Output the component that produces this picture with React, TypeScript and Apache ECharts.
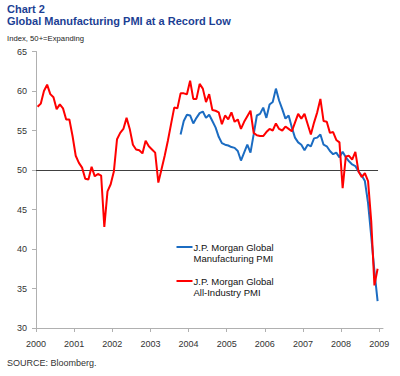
import React, { useEffect, useRef } from "react";
import * as echarts from "echarts";

// Monthly readings, Jan 2000 .. Dec 2008
const startYear = 2000;
const allIndustryPMI = [
  58.0, 58.4, 60.0, 60.8, 59.6, 59.2, 57.7, 58.3, 57.8, 56.4, 56.4, 54.3,
  51.8, 50.9, 50.3, 48.9, 48.8, 50.4, 49.2, 49.5, 49.3, 42.8, 47.3, 48.2,
  49.8, 53.9, 54.7, 55.2, 56.6, 55.2, 53.2, 52.6, 52.5, 52.1, 53.7, 53.0,
  52.6, 52.2, 48.4, 50.1, 51.8, 53.7, 55.8, 57.9, 57.8, 59.7, 59.7, 59.6,
  61.3, 59.0, 59.0, 60.9, 60.3, 58.6, 59.6, 57.6, 57.5, 57.3, 55.8, 56.9,
  56.4, 57.3, 56.1, 56.4, 55.2, 56.1, 56.8, 57.5, 54.7, 54.4, 54.3, 54.3,
  54.8, 55.2, 55.0, 55.9, 55.2, 55.0, 55.5, 55.2, 54.9, 56.0, 57.1, 56.5,
  57.1, 55.8, 54.5, 56.0, 57.3, 59.0, 56.2, 56.1, 54.7, 54.8, 53.8, 53.5,
  47.7, 51.7, 51.8, 51.3, 52.3, 49.8, 49.1, 49.6, 48.6, 43.5, 35.4, 37.5,
];
// Manufacturing PMI starts Oct 2003 (month index 45)
const manufacturingStartIndex = 45;
const manufacturingPMI = [
  54.5, 56.2, 57.0,
  56.9, 55.9, 56.6, 57.2, 57.4, 56.6, 57.0, 56.2, 55.4, 54.2, 53.4, 53.2,
  53.1, 52.9, 52.8, 52.4, 51.2, 52.2, 53.2, 52.2, 54.5, 56.9, 57.1, 57.9,
  56.6, 58.3, 58.6, 60.3, 58.8, 57.7, 56.5, 56.9, 55.4, 54.1, 53.5, 53.2,
  52.5, 53.2, 53.0, 54.0, 54.1, 54.5, 53.2, 53.0, 52.4, 52.0, 52.2, 51.6,
  52.3, 51.6, 51.1, 50.7, 50.5, 49.8, 49.3, 48.6, 45.8, 41.6, 37.2, 33.4,
];
const yearTicks = [2000, 2001, 2002, 2003, 2004, 2005, 2006, 2007, 2008, 2009];
const yMin = 30;
const yMax = 65;
const yStep = 5;
const thresholdLevel = 50;

const seriesNames = [
  "J.P. Morgan Global\nManufacturing PMI",
  "J.P. Morgan Global\nAll-Industry PMI",
];
const seriesColors = ["#1b6cc2", "#ff0000"];

const monthToX = (i: number) => startYear + (i + 0.5) / 12;

export default function App() {
  const ref = useRef<HTMLDivElement>(null);
  useEffect(() => {
    if (!ref.current) return;
    const chart = echarts.init(ref.current, null, { renderer: "svg" });
    const font = "'Liberation Sans', Arial, sans-serif";
    const redData = allIndustryPMI.map((v, i) => [monthToX(i), v]);
    const blueData = manufacturingPMI.map((v, i) => [
      monthToX(i + manufacturingStartIndex),
      v,
    ]);
    const legendItems = seriesNames.map((name, k) => ({
      type: "group",
      left: 174,
      top: 242 + k * 34,
      children: [
        {
          type: "line",
          shape: { x1: 0, y1: 5, x2: 16, y2: 5 },
          style: { stroke: seriesColors[k], lineWidth: 2 },
        },
        {
          type: "text",
          x: 17,
          y: 0,
          style: {
            text: name,
            font: `9.5px ${font}`,
            fill: "#111",
            lineHeight: 11,
          },
        },
      ],
    }));
    chart.setOption({
      animation: false,
      grid: { left: 36, right: 17, top: 51.5, bottom: 48, containLabel: false },
      xAxis: {
        type: "value",
        min: 2000,
        max: 2009.1,
        interval: 1,
        axisLine: { show: true, lineStyle: { color: "#b0b0b0", width: 1 } },
        axisTick: {
          show: true,
          length: 4,
          customValues: yearTicks,
          lineStyle: { color: "#b0b0b0" },
        },
        axisLabel: {
          customValues: yearTicks,
          margin: 11,
          fontSize: 9,
          fontFamily: font,
          color: "#333",
          formatter: (v: number) => String(Math.round(v)),
        },
        splitLine: { show: false },
      },
      yAxis: {
        type: "value",
        min: yMin,
        max: yMax,
        interval: yStep,
        axisLine: { show: true, lineStyle: { color: "#b0b0b0", width: 1 } },
        axisTick: { show: true, length: 4, lineStyle: { color: "#b0b0b0" } },
        axisLabel: {
          margin: 9,
          fontSize: 9,
          fontFamily: font,
          color: "#333",
        },
        splitLine: { show: false },
      },
      series: [
        {
          name: seriesNames[0],
          type: "line",
          data: blueData,
          showSymbol: false,
          lineStyle: { color: seriesColors[0], width: 2 },
          itemStyle: { color: seriesColors[0] },
          z: 3,
        },
        {
          name: seriesNames[1],
          type: "line",
          data: redData,
          showSymbol: false,
          lineStyle: { color: seriesColors[1], width: 2 },
          itemStyle: { color: seriesColors[1] },
          z: 4,
          markLine: {
            silent: true,
            symbol: "none",
            label: { show: false },
            lineStyle: { color: "#404040", width: 1, type: "solid" },
            data: [
              [
                { coord: [2000, thresholdLevel] },
                { coord: [2008.97, thresholdLevel] },
              ],
            ],
            z: 2,
          },
        },
      ],
      graphic: [
        {
          type: "text",
          left: 7,
          top: 3,
          style: { text: "Chart 2", font: `bold 11px ${font}`, fill: "#1c3f94" },
        },
        {
          type: "text",
          left: 7,
          top: 15,
          style: {
            text: "Global Manufacturing PMI at a Record Low",
            font: `bold 11px ${font}`,
            fill: "#1c3f94",
          },
        },
        {
          type: "text",
          left: 7,
          top: 34,
          style: { text: "Index, 50+=Expanding", font: `7.7px ${font}`, fill: "#222" },
        },
        {
          type: "text",
          left: 7,
          top: 358,
          style: { text: "SOURCE: Bloomberg.", font: `9px ${font}`, fill: "#333" },
        },
        ...legendItems,
      ],
    });
    return () => chart.dispose();
  }, []);
  return (
    <div
      ref={ref}
      style={{ position: "absolute", left: 0, top: 0, width: 400, height: 376 }}
    />
  );
}
